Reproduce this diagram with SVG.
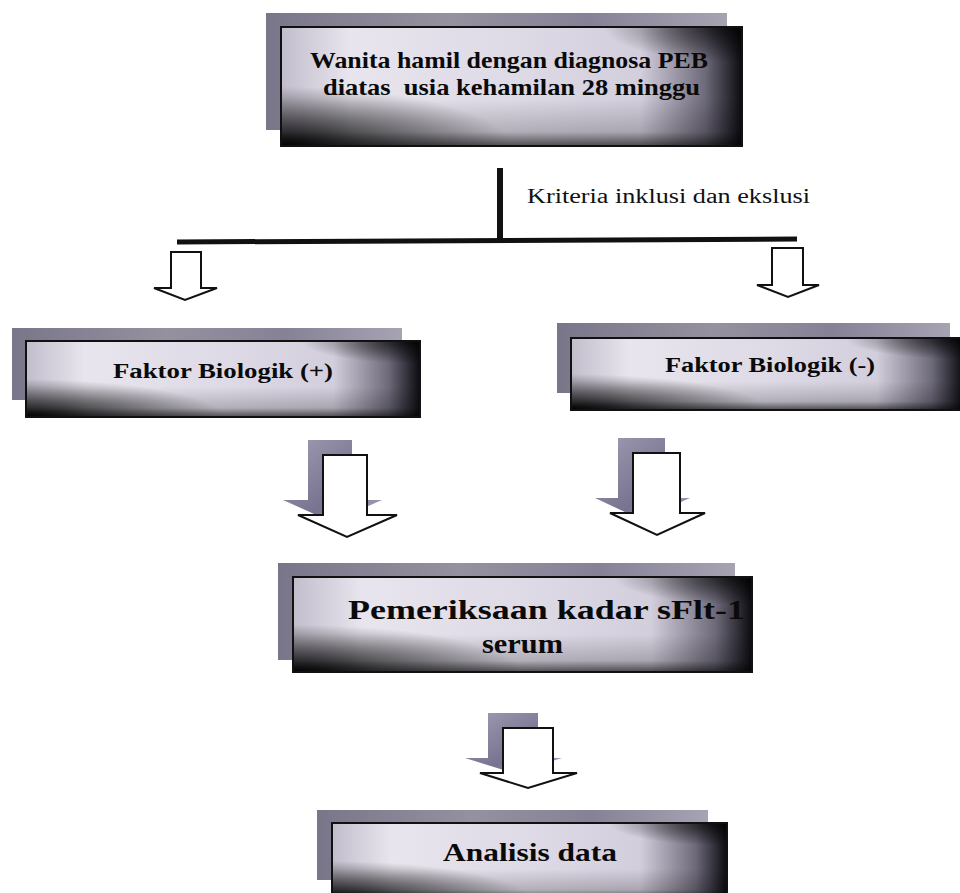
<svg xmlns="http://www.w3.org/2000/svg" width="960" height="893" viewBox="0 0 960 893">
<style>
.bg{fill:#ffffff}
.sh{fill:url(#gSh)}
.base{fill:url(#gBase)}
.v{fill:url(#gV)}
.bl{fill:url(#gBL)}
.tr{fill:url(#gTR)}
.bd{fill:none;stroke:#111;stroke-width:2}
.t{font-family:"Liberation Serif","Times New Roman",serif;font-weight:bold;fill:#0a0a0a;white-space:pre}
.lab{font-family:"Liberation Serif","Times New Roman",serif;fill:#111;font-size:20px}
.arr{fill:#fff;stroke:#111;stroke-width:2;stroke-linejoin:miter}
.ash{fill:url(#gASh)}
</style>
<defs>
<linearGradient id="gSh" x1="0" y1="0" x2="1" y2="0">
<stop offset="0" stop-color="#7a768a"/>
<stop offset="0.4" stop-color="#96919f"/>
<stop offset="0.7" stop-color="#868196"/>
<stop offset="1" stop-color="#a7a3b3"/>
</linearGradient>
<linearGradient id="gBase" x1="0" y1="0" x2="1" y2="0">
<stop offset="0" stop-color="#c2bdcb"/>
<stop offset="0.15" stop-color="#e8e5ee"/>
<stop offset="0.5" stop-color="#dedae6"/>
<stop offset="0.78" stop-color="#d3cedc"/>
<stop offset="0.92" stop-color="#6e6a7a"/>
<stop offset="1" stop-color="#0b0b10"/>
</linearGradient>
<linearGradient id="gV" x1="0" y1="0" x2="0" y2="1">
<stop offset="0" stop-color="#000" stop-opacity="0"/>
<stop offset="0.6" stop-color="#000" stop-opacity="0"/>
<stop offset="0.88" stop-color="#000" stop-opacity="0.2"/>
<stop offset="1" stop-color="#000" stop-opacity="0.65"/>
</linearGradient>
<radialGradient id="gBL" cx="0" cy="1" r="0.5">
<stop offset="0" stop-color="#000" stop-opacity="0.95"/>
<stop offset="0.4" stop-color="#000" stop-opacity="0.55"/>
<stop offset="1" stop-color="#000" stop-opacity="0"/>
</radialGradient>
<radialGradient id="gTR" cx="1" cy="0" r="0.3">
<stop offset="0" stop-color="#000" stop-opacity="0.8"/>
<stop offset="1" stop-color="#000" stop-opacity="0"/>
</radialGradient>
<linearGradient id="gASh" x1="0" y1="0" x2="1" y2="1">
<stop offset="0" stop-color="#a29eb4"/>
<stop offset="0.6" stop-color="#77728f"/>
<stop offset="1" stop-color="#aeaabe"/>
</linearGradient>
</defs>
<rect class="bg" x="0" y="0" width="960" height="893"/>

<g id="node-wanita">
<rect class="sh" x="266" y="13" width="461" height="117"/>
<rect class="base" x="281" y="27" width="461" height="119"/>
<rect class="v" x="281" y="27" width="461" height="119"/>
<rect class="bl" x="281" y="27" width="461" height="119"/>
<rect class="tr" x="281" y="27" width="461" height="119"/>
<rect class="bd" x="281" y="27" width="461" height="119"/>
<text class="t" x="310" y="68" font-size="23" textLength="398" lengthAdjust="spacingAndGlyphs">Wanita hamil dengan diagnosa PEB</text>
<text class="t" x="323" y="95" font-size="23" textLength="377" lengthAdjust="spacingAndGlyphs">diatas  usia kehamilan 28 minggu</text>
</g>

<g id="node-faktor-pos">
<rect class="sh" x="12" y="328" width="390" height="72"/>
<rect class="base" x="26" y="341" width="394" height="76"/>
<rect class="v" x="26" y="341" width="394" height="76"/>
<rect class="bl" x="26" y="341" width="394" height="76"/>
<rect class="tr" x="26" y="341" width="394" height="76"/>
<rect class="bd" x="26" y="341" width="394" height="76"/>
<text class="t" x="113" y="378" font-size="20" textLength="220" lengthAdjust="spacingAndGlyphs">Faktor Biologik (+)</text>
</g>

<g id="node-faktor-neg">
<rect class="sh" x="557" y="323" width="393" height="70"/>
<rect class="base" x="571" y="338" width="392" height="72"/>
<rect class="v" x="571" y="338" width="392" height="72"/>
<rect class="bl" x="571" y="338" width="392" height="72"/>
<rect class="tr" x="571" y="338" width="392" height="72"/>
<rect class="bd" x="571" y="338" width="392" height="72"/>
<text class="t" x="665" y="372" font-size="20" textLength="210" lengthAdjust="spacingAndGlyphs">Faktor Biologik (-)</text>
</g>

<g id="node-pemeriksaan">
<rect class="sh" x="278" y="563" width="457" height="97"/>
<rect class="base" x="293" y="577" width="459" height="95"/>
<rect class="v" x="293" y="577" width="459" height="95"/>
<rect class="bl" x="293" y="577" width="459" height="95"/>
<rect class="tr" x="293" y="577" width="459" height="95"/>
<rect class="bd" x="293" y="577" width="459" height="95"/>
<text class="t" x="348" y="619" font-size="28" textLength="397" lengthAdjust="spacingAndGlyphs">Pemeriksaan kadar sFlt-1</text>
<text class="t" x="482" y="653" font-size="28" textLength="81" lengthAdjust="spacingAndGlyphs">serum</text>
</g>

<g id="node-analisis">
<rect class="sh" x="317" y="810" width="391" height="70"/>
<rect class="base" x="332" y="823" width="395" height="76"/>
<rect class="v" x="332" y="823" width="395" height="76"/>
<rect class="bl" x="332" y="823" width="395" height="76"/>
<rect class="tr" x="332" y="823" width="395" height="76"/>
<rect class="bd" x="332" y="823" width="395" height="76"/>
<text class="t" x="443" y="861" font-size="26" textLength="174" lengthAdjust="spacingAndGlyphs">Analisis data</text>
</g>

<g id="connectors">
<line x1="500" y1="168" x2="500" y2="242" stroke="#111" stroke-width="6"/>
<line x1="177" y1="242" x2="797" y2="239" stroke="#111" stroke-width="5"/>
<text class="lab" x="527" y="203" textLength="283" lengthAdjust="spacingAndGlyphs">Kriteria inklusi dan ekslusi</text>
<path class="arr" d="M171,252 H201 V288 H217 L185,300 L154,288 H171 Z"/>
<path class="arr" d="M772,248 H803 V285 H819 L788,297 L757,285 H772 Z"/>
<path class="ash" d="M308,440 H352 V500 H382 L332,522 L283,500 H308 Z"/>
<path class="arr" d="M323,455 H367 V515 H397 L347,537 L298,515 H323 Z"/>
<path class="ash" d="M618,438 H665 V498 H690 L642,520 L595,498 H618 Z"/>
<path class="arr" d="M633,453 H680 V513 H705 L657,535 L610,513 H633 Z"/>
<path class="ash" d="M488,713 H538 V758 H562 L513,773 L465,758 H488 Z"/>
<path class="arr" d="M503,728 H553 V773 H577 L528,788 L480,773 H503 Z"/>
</g>
</svg>
